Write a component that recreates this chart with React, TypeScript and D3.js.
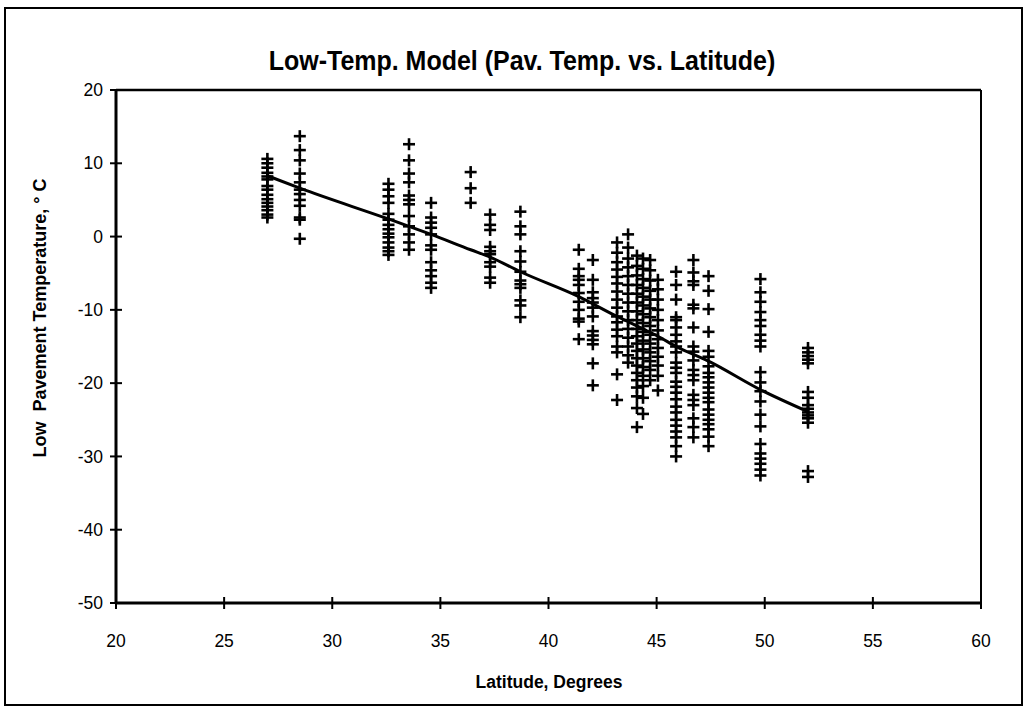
import React from "react";
import * as d3 from "d3";

const title = "Low-Temp. Model (Pav. Temp. vs. Latitude)";
const xLabel = "Latitude, Degrees";
const yLabel = "Low  Pavement Temperature, \u00B0 C";

const xTicks = [20, 25, 30, 35, 40, 45, 50, 55, 60];
const yTicks = [20, 10, 0, -10, -20, -30, -40, -50];

// latitude of each station column
const columnLatitudes = [
  27.0, 28.5, 32.6, 33.55, 34.57, 36.4, 37.3, 38.7, 41.4, 42.05,
  43.17, 43.68, 44.09, 44.37, 44.7, 45.06, 45.9, 46.7, 47.4, 49.8, 52.0,
];

// low pavement temperatures (°C) observed in each column
const columnTemps = [
  [10.6, 10.0, 9.4, 8.7, 8.2, 7.8, 6.9, 6.4, 5.7, 5.1, 4.6, 4.1, 3.6, 3.0, 2.6],
  [13.7, 11.8, 10.4, 8.6, 7.4, 6.4, 5.8, 5.0, 4.2, 2.6, 2.3, -0.3],
  [7.2, 6.4, 5.5, 4.6, 3.1, 2.3, 1.6, 1.0, 0.4, -0.1, -0.8, -1.5, -2.0, -2.5],
  [12.6, 10.4, 8.6, 7.4, 5.6, 5.0, 4.4, 2.8, 1.4, 0.3, -0.8, -1.8],
  [4.6, 2.6, 1.9, 1.2, 0.3, -1.2, -1.8, -3.5, -4.6, -5.4, -6.3, -7.0],
  [8.8, 6.6, 4.6],
  [3.0, 1.6, 0.9, -1.4, -2.0, -2.4, -3.5, -4.1, -5.6, -6.3],
  [3.4, 1.4, 0.3, -2.0, -3.4, -4.8, -6.0, -6.5, -7.0, -8.7, -9.4, -11.0],
  [-1.8, -4.4, -5.4, -5.9, -6.6, -7.7, -8.9, -10.0, -11.2, -11.6, -14.0],
  [-3.2, -5.9, -7.6, -8.4, -9.0, -9.7, -10.9, -12.9, -13.5, -14.1, -14.7, -17.3, -20.3],
  [-0.8, -2.2, -3.5, -4.5, -5.5, -6.4, -7.5, -8.6, -9.7, -10.9, -11.7, -12.7, -13.6, -15.0, -15.8, -18.8, -22.3],
  [0.3, -1.5, -3.0, -4.2, -5.4, -6.6, -7.8, -9.0, -10.2, -11.4, -12.6, -13.8, -15.0, -16.2, -17.2],
  [-2.6, -4.0, -5.3, -6.6, -7.8, -9.0, -10.2, -11.4, -12.6, -13.6, -14.6, -15.6, -16.6, -17.6, -18.6, -19.6, -20.6, -21.8, -23.4, -26.0],
  [-3.0, -4.4, -5.8, -7.0, -8.2, -9.4, -10.6, -11.8, -13.0, -14.2, -15.4, -16.6, -17.8, -19.0, -20.4, -22.0, -24.2],
  [-3.2, -4.6, -6.0, -7.4, -8.6, -9.8, -11.0, -12.2, -13.4, -14.6, -15.8, -17.0, -18.2, -19.6],
  [-5.9, -7.2, -8.6, -10.0, -11.4, -12.8, -14.0, -15.2, -16.4, -17.6, -19.0, -21.0],
  [-4.8, -6.6, -8.6, -11.0, -11.4, -12.4, -13.4, -14.3, -15.0, -15.8, -17.2, -17.9, -18.6, -19.8, -20.5, -21.3, -22.2, -23.2, -24.0, -25.0, -25.8, -26.6, -27.4, -28.6, -30.0],
  [-3.2, -4.9, -6.1, -6.6, -9.3, -9.8, -12.4, -15.0, -15.7, -16.9, -18.2, -18.9, -19.6, -21.6, -22.3, -23.0, -24.8, -26.0, -27.4],
  [-5.4, -7.4, -9.9, -13.0, -15.6, -16.4, -17.7, -18.6, -19.2, -19.9, -20.6, -21.3, -22.0, -22.6, -23.6, -24.3, -25.0, -25.6, -26.3, -27.3, -28.6],
  [-5.8, -7.6, -8.9, -10.3, -11.4, -12.2, -13.4, -14.2, -15.0, -18.5, -19.9, -21.1, -22.5, -24.3, -25.9, -28.3, -29.6, -30.3, -31.0, -31.8, -32.6],
  [-15.2, -15.8, -16.3, -16.8, -17.3, -21.2, -22.0, -23.0, -23.5, -24.0, -24.4, -24.8, -25.4, -32.0, -32.8],
];

// model (fitted) line
const fitLatitudes = [27.0, 28.5, 32.6, 33.55, 34.57, 36.4, 37.3, 38.7, 41.4, 43.17, 44.37, 45.06, 45.9, 47.4, 49.8, 52.0];
const fitTemps = [8.3, 6.6, 2.4, 1.4, 0.3, -1.8, -2.8, -4.8, -8.2, -10.9, -12.6, -13.6, -15.0, -17.0, -20.9, -23.9];

const W = 1027;
const H = 712;
const plot = { left: 116, right: 981, top: 90, bottom: 603 };
const font = "'Liberation Sans', Arial, sans-serif";

export default function App() {
  const x = d3.scaleLinear().domain([20, 60]).range([plot.left, plot.right]);
  const y = d3.scaleLinear().domain([-50, 20]).range([plot.bottom, plot.top]);

  const points: { lat: number; t: number }[] = [];
  columnLatitudes.forEach((lat, i) => {
    columnTemps[i].forEach((t) => points.push({ lat, t }));
  });

  const line = d3
    .line<number>()
    .x((_, i) => x(fitLatitudes[i]))
    .y((d) => y(d))
    .curve(d3.curveMonotoneX);
  const fitPath = line(fitTemps) || "";

  const arm = 6;

  return (
    <svg
      width={W}
      height={H}
      style={{ position: "absolute", left: 0, top: 0, background: "#fff" }}
      fontFamily={font}
    >
      <rect x={0} y={0} width={W} height={H} fill="#fff" />
      {/* outer frame */}
      <rect x={5} y={8} width={1017} height={697} fill="none" stroke="#000" strokeWidth={2} />

      {/* title */}
      <text
        transform="translate(522, 70) scale(1, 1.08)"
        textAnchor="middle"
        fontSize={25}
        fontWeight="bold"
      >
        {title}
      </text>

      {/* plot box */}
      <line x1={plot.left} x2={plot.right} y1={plot.top} y2={plot.top} stroke="#000" strokeWidth={2.5} />
      <line x1={plot.right} x2={plot.right} y1={plot.top} y2={plot.bottom} stroke="#000" strokeWidth={2} />
      <line x1={plot.left} x2={plot.left} y1={plot.top} y2={plot.bottom} stroke="#000" strokeWidth={3} />
      <line x1={plot.left} x2={plot.right} y1={plot.bottom} y2={plot.bottom} stroke="#000" strokeWidth={3} />

      {/* y ticks */}
      {yTicks.map((t) => (
        <g key={"y" + t}>
          <line x1={plot.left - 6} x2={plot.left + 6} y1={y(t)} y2={y(t)} stroke="#000" strokeWidth={2} />
          <text x={plot.left - 13} y={y(t)} dy="0.35em" textAnchor="end" fontSize={17.5}>
            {t}
          </text>
        </g>
      ))}

      {/* x ticks */}
      {xTicks.map((t) => (
        <g key={"x" + t}>
          <line x1={x(t)} x2={x(t)} y1={plot.bottom - 6} y2={plot.bottom + 6} stroke="#000" strokeWidth={2} />
          <text x={x(t)} y={plot.bottom + 38} dy="0.35em" textAnchor="middle" fontSize={17.5}>
            {t}
          </text>
        </g>
      ))}

      {/* axis titles */}
      <text x={549} y={688} textAnchor="middle" fontSize={17.5} fontWeight="bold">
        {xLabel}
      </text>
      <text
        transform={`translate(46, 318) rotate(-90)`}
        textAnchor="middle"
        fontSize={18}
        fontWeight="bold"
        style={{ whiteSpace: "pre" }}
      >
        {yLabel}
      </text>

      {/* data points */}
      <g stroke="#000" strokeWidth={2.6}>
        {points.map((p, i) => (
          <g key={i}>
            <line x1={x(p.lat) - arm} x2={x(p.lat) + arm} y1={y(p.t)} y2={y(p.t)} />
            <line x1={x(p.lat)} x2={x(p.lat)} y1={y(p.t) - arm} y2={y(p.t) + arm} />
          </g>
        ))}
      </g>

      {/* fitted model line */}
      <path d={fitPath} fill="none" stroke="#000" strokeWidth={3} strokeLinejoin="round" />
    </svg>
  );
}
